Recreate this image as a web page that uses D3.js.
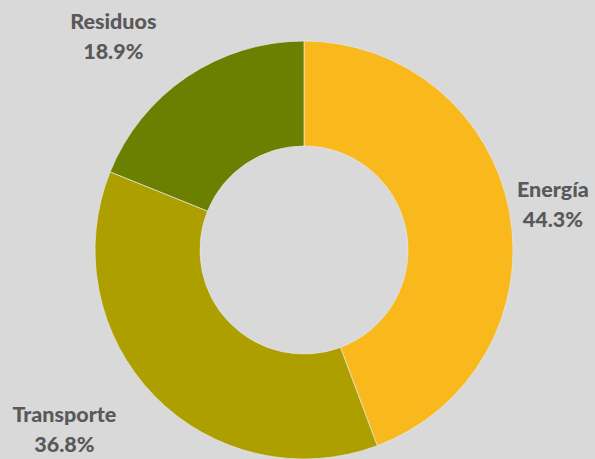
<!DOCTYPE html>
<html>
<head>
<meta charset="utf-8">
<script src="https://cdn.jsdelivr.net/npm/d3@7"></script>
<style>
  html, body { margin: 0; padding: 0; background: #d9d9d9; }
  svg { display: block; }
</style>
</head>
<body>
<div id="chart-area"></div>
<script>
// data
var categories = ["Energía", "Transporte", "Residuos"];
var values = [44.3, 36.8, 18.9];
var colors = ["#f9b81b", "#ad9f00", "#6b7f00"];

var width = 595, height = 459;
var cx = 304, cy = 250;
var outerR = 209, innerR = 104;

// label nudges from the centroid-direction position (layout only)
var labelShift = [[-2, -1], [-57, 1], [-48, -3]];

var svg = d3.select("#chart-area")
    .append("svg")
        .attr("width", width)
        .attr("height", height);

svg.append("rect")
    .attr("width", width)
    .attr("height", height)
    .attr("fill", "#d9d9d9");

var g = svg.append("g")
    .attr("transform", "translate(" + cx + "," + cy + ")");

var pie = d3.pie()
    .sort(null)
    .value(d => d);

var arc = d3.arc()
    .innerRadius(innerR)
    .outerRadius(outerR);

var labelArc = d3.arc()
    .innerRadius(255)
    .outerRadius(255);

var arcs = pie(values);

g.selectAll("path")
    .data(arcs)
    .enter()
    .append("path")
        .attr("d", arc)
        .attr("fill", (d, i) => colors[i])
        .attr("stroke", "#e6e6e6")
        .attr("stroke-width", 0.7);

var labels = g.selectAll("text.label")
    .data(arcs)
    .enter()
    .append("text")
        .attr("class", "label")
        .attr("transform", function(d, i){
            var c = labelArc.centroid(d);
            return "translate(" + (c[0] + labelShift[i][0]) + "," + (c[1] + labelShift[i][1]) + ")";
        })
        .attr("text-anchor", "middle")
        .attr("font-family", "Lato, 'Open Sans', sans-serif")
        .attr("font-weight", 900)
        .attr("font-size", "21.5px")
        .attr("fill", "#595959");

labels.append("tspan")
    .attr("x", 0)
    .attr("y", -7)
    .text((d, i) => categories[i]);

labels.append("tspan")
    .attr("x", 0)
    .attr("y", 23)
    .text(d => d3.format(".1f")(d.data) + "%");
</script>
</body>
</html>
